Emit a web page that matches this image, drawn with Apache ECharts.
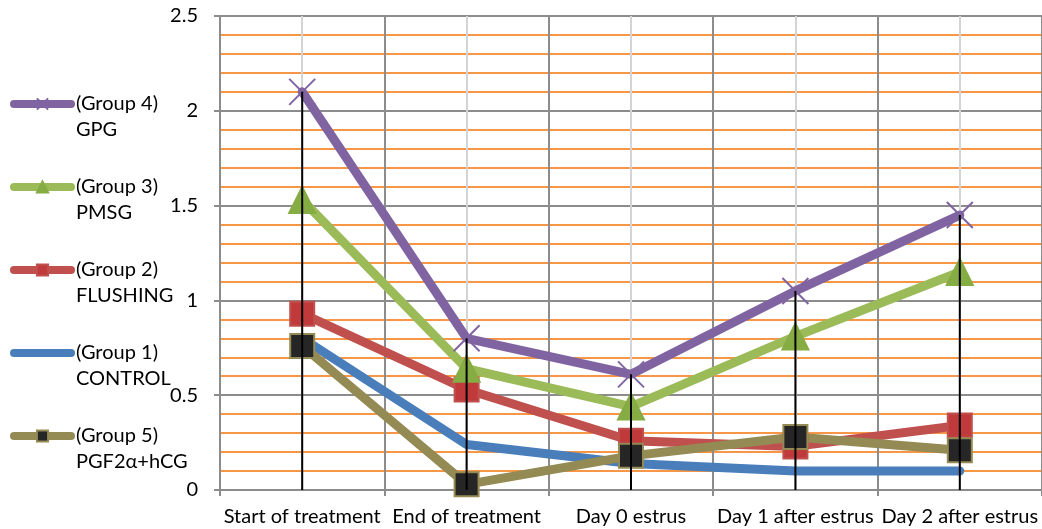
<!DOCTYPE html>
<html>
<head>
<meta charset="utf-8">
<script src="https://cdn.jsdelivr.net/npm/echarts@6/dist/echarts.min.js"></script>
<style>
  html, body { margin: 0; padding: 0; background: #fff; }
  #main { width: 1042px; height: 529px; }
</style>
</head>
<body>
<div id="main"></div>
<script>
var categories = ['Start of treatment', 'End of treatment', 'Day 0 estrus', 'Day 1 after estrus', 'Day 2 after estrus'];
var yTicks = [0, 0.5, 1, 1.5, 2, 2.5];

var group4 = [2.1, 0.8, 0.61, 1.05, 1.45];    // GPG
var group3 = [1.53, 0.64, 0.44, 0.81, 1.15];  // PMSG
var group2 = [0.93, 0.53, 0.26, 0.23, 0.34];  // FLUSHING
var group1 = [0.8, 0.24, 0.14, 0.1, 0.1];     // CONTROL
var group5 = [0.76, 0.03, 0.18, 0.28, 0.21];  // PGF2a+hCG

var names = ['(Group 4)\nGPG', '(Group 3)\nPMSG', '(Group 2)\nFLUSHING', '(Group 1)\nCONTROL', '(Group 5)\nPGF2α+hCG'];

// high-low lines: top of all groups down to 0
var highs = categories.map(function (c, i) {
  return [i, Math.max(group1[i], group2[i], group3[i], group4[i], group5[i])];
});

var font = 'Lato, "Open Sans", sans-serif';

function lineSeries(name, data, color, symbol, size, fill, border) {
  return {
    name: name,
    type: 'line',
    data: data,
    symbol: symbol,
    symbolSize: size,
    showSymbol: size > 0,
    lineStyle: { color: color, width: 9, cap: 'round' },
    itemStyle: { color: fill, borderColor: border, borderWidth: border ? 2 : 0 },
    z: 3
  };
}

var myChart = echarts.init(document.getElementById('main'));
var option = {
  animation: false,
  grid: { left: 220, right: -3, top: 16, bottom: 39 },
  legend: {
    orient: 'vertical',
    left: 10,
    top: 65,
    padding: 0,
    itemWidth: 57,
    itemHeight: 14,
    itemGap: 5,
    data: names,
    lineStyle: { width: 8 },
    // leading blank line puts the icon beside the first text line
    formatter: function (n) { return ' \n' + n; },
    textStyle: { fontFamily: font, fontSize: 20, color: '#000', lineHeight: 26 }
  },
  xAxis: [{
    type: 'category',
    data: categories,
    boundaryGap: true,
    axisLine: { lineStyle: { color: '#8c8c8c', width: 2 } },
    axisTick: { show: true, length: 6, lineStyle: { color: '#8c8c8c', width: 2 } },
    axisLabel: { fontFamily: font, fontSize: 20, color: '#000', margin: 17, interval: 0 },
    splitLine: { show: false }
  }, {
    type: 'value',
    min: 0,
    max: 10,
    interval: 1,
    position: 'top',
    axisLine: { show: false },
    axisTick: { show: false },
    axisLabel: { show: false },
    splitLine: { show: true, lineStyle: { color: ['#8c8c8c', '#d4d4d4'], width: 2 } }
  }],
  yAxis: {
    type: 'value',
    min: 0,
    max: 2.5,
    interval: 0.5,
    axisLine: { show: true, lineStyle: { color: '#8c8c8c', width: 2 } },
    axisTick: { show: true, length: 6, lineStyle: { color: '#8c8c8c', width: 2 } },
    axisLabel: {
      fontFamily: font, fontSize: 20, color: '#000', margin: 22,
      formatter: function (v) { return yTicks.indexOf(v) >= 0 ? String(v) : ''; }
    },
    splitLine: { show: true, lineStyle: { color: '#8c8c8c', width: 2 } },
    minorTick: { show: false, splitNumber: 5 },
    minorSplitLine: { show: true, lineStyle: { color: '#f79646', width: 2 } }
  },
  series: [
    // CONTROL has no marker: invisible symbol so the legend shows only the line
    lineSeries(names[3], group1, '#4a7ebb', 'circle', 0, 'rgba(0,0,0,0)', null),
    lineSeries(names[2], group2, '#c0504d', 'rect', 24, '#c0393b', '#c0504d'),
    lineSeries(names[1], group3, '#9bbb59', 'triangle', 26, '#86ac44', '#86ac44'),
    lineSeries(names[0], group4, '#8064a2', 'path://M0,0L10,10M10,0L0,10', 26, '#8064a2', '#8064a2'),
    lineSeries(names[4], group5, '#948a54', 'rect', 24, '#262626', '#948a54'),
    {
      type: 'custom',
      data: highs,
      z: 4,
      silent: true,
      renderItem: function (params, api) {
        var top = api.coord([api.value(0), api.value(1)]);
        var bottom = api.coord([api.value(0), 0]);
        return {
          type: 'line',
          shape: { x1: top[0], y1: top[1], x2: bottom[0], y2: bottom[1] },
          style: { stroke: '#000', lineWidth: 2 }
        };
      }
    }
  ]
};
myChart.setOption(option);
</script>
</body>
</html>
